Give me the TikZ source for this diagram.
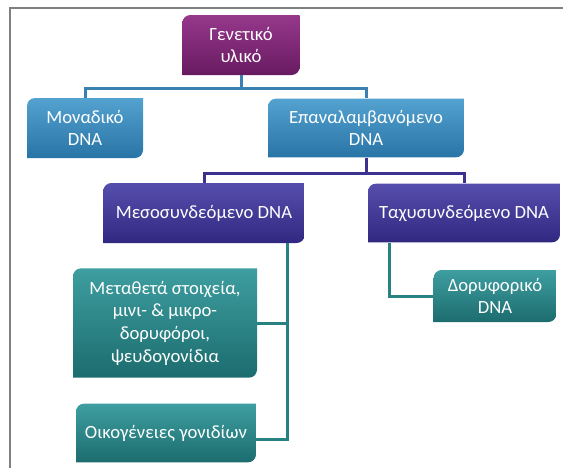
\documentclass[tikz,border=0pt]{standalone}
\usepackage{fontspec}
\setmainfont{Carlito}
\usetikzlibrary{positioning}
\definecolor{purpletop}{RGB}{150,56,140}
\definecolor{purplebot}{RGB}{104,26,96}
\definecolor{bluetop}{RGB}{84,162,208}
\definecolor{bluebot}{RGB}{40,116,166}
\definecolor{indigotop}{RGB}{86,78,172}
\definecolor{indigobot}{RGB}{48,40,128}
\definecolor{tealtop}{RGB}{62,158,160}
\definecolor{tealbot}{RGB}{28,108,110}
\definecolor{bluelink}{RGB}{58,128,176}
\definecolor{indigolink}{RGB}{58,50,142}
\definecolor{teallink}{RGB}{40,130,130}
\definecolor{framegray}{RGB}{128,128,128}
\tikzset{
  treebox/.style 2 args={inner sep=0pt, align=center, text=white,
    font=\fontsize{14}{17}\selectfont,
    path picture={\shade[top color=#1, bottom color=#2]
      (path picture bounding box.south west) [rounded corners=6pt]
      -- (path picture bounding box.north west) [sharp corners]
      -- (path picture bounding box.north east) [rounded corners=6pt]
      -- (path picture bounding box.south east) [sharp corners] -- cycle;}},
  link/.style={draw=#1, line width=2.25pt},
}

\begin{document}
\begin{tikzpicture}[x=0.75pt, y=-0.75pt]
  \useasboundingbox (0,0) rectangle (563,468);
  \draw[framegray, line width=1.5pt] (10,468) -- (10,8) -- (563,8);

  \node[treebox={purpletop}{purplebot}, minimum width=88pt, minimum height=45pt] (root) at (241,45) {Γενετικό\\υλικό};
  \node[treebox={bluetop}{bluebot}, minimum width=87pt, minimum height=45pt] (single) at (85,128) {Μοναδικό\\DNA};
  \node[treebox={bluetop}{bluebot}, minimum width=147pt, minimum height=44pt] (repeat) at (366,128) {Επαναλαμβανόμενο\\DNA};
  \node[treebox={indigotop}{indigobot}, minimum width=151pt, minimum height=45pt] (mid) at (204,213) {Μεσοσυνδεόμενο DNA};
  \node[treebox={indigotop}{indigobot}, minimum width=144pt, minimum height=44pt] (fast) at (464,213) {Ταχυσυνδεόμενο DNA};
  \node[treebox={tealtop}{tealbot}, minimum width=138pt, minimum height=82pt] (transp) at (165,323) {Μεταθετά στοιχεία,\\μινι- \& μικρο-\\δορυφόροι,\\ψευδογονίδια};
  \node[treebox={tealtop}{tealbot}, minimum width=135pt, minimum height=44pt] (family) at (166,433) {Οικογένειες γονιδίων};
  \node[treebox={tealtop}{tealbot}, minimum width=92pt, minimum height=39pt] (sat) at (495,296) {Δορυφορικό\\DNA};

  % connectors
  \draw[link=bluelink] (root.south) -- ++(0,13) -| (single.north);
  \draw[link=bluelink] (root.south) -- ++(0,13) -| (repeat.north);
  \draw[link=indigolink] (repeat.south) -- ++(0,16) -| (mid.north);
  \draw[link=indigolink] (repeat.south) -- ++(0,16) -| (fast.north);
  \path (mid.south) ++(83,0) coordinate (midfoot);
  \draw[link=teallink] (transp.east) -| (midfoot);
  \draw[link=teallink] ([yshift=-5pt]family.east) -| (midfoot);
  \path (fast.south west) ++(22,0) coordinate (fastfoot);
  \draw[link=teallink] (sat.west) -| (fastfoot);
\end{tikzpicture}
\end{document}
